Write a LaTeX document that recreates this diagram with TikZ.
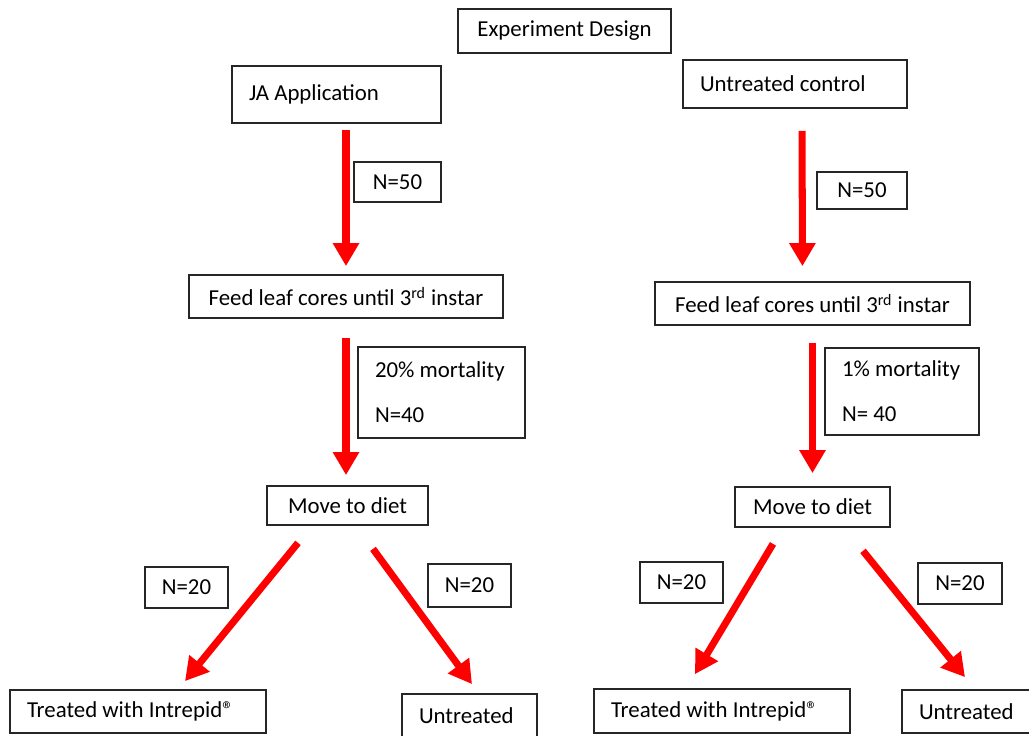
\documentclass[tikz,border=0pt]{standalone}
\usepackage{fontspec}
\setmainfont{Carlito}
\usetikzlibrary{arrows.meta}
\tikzset{
    box/.style={draw=black!85, line width=1pt, inner sep=0pt, font=\fontsize{13}{15.6}\selectfont},
    lbox/.style={box, align=flush left, inner xsep=0.34cm},
    flow/.style={red, line width=4pt, -{Triangle[length=0.46cm,width=0.5cm]}}
}
\begin{document}
\begin{tikzpicture}[x=0.02cm, y=-0.02cm]
        \useasboundingbox (0,0) rectangle (1029,736);

        % Title
        \node[box, minimum width=4.26cm, minimum height=0.88cm] (title) at (564.5,31) {Experiment Design};

        % JA branch
        \node[lbox, text width=3.5cm, minimum height=1.14cm] (ja) at (336.5,94.5) {JA Application};
        \node[box, minimum width=1.74cm, minimum height=0.8cm] (n50L) at (397.5,182) {N=50};
        \node[box, minimum width=6.28cm, minimum height=0.86cm] (feedL) at (346,296.5) {Feed leaf cores until 3\textsuperscript{rd} instar};
        \node[lbox, text width=2.66cm, minimum height=1.82cm] (mortL) at (441.5,392.5) {20\% mortality\\[10pt]N=40};
        \node[box, minimum width=3.22cm, minimum height=0.78cm] (dietL) at (347.5,505.5) {Move to diet};
        \node[box, minimum width=1.66cm, minimum height=0.82cm] (n20a) at (186.5,587.5) {N=20};
        \node[box, minimum width=1.66cm, minimum height=0.86cm] (n20b) at (469.5,585.5) {N=20};
        \node[lbox, text width=4.44cm, minimum height=0.86cm] (trtL) at (138,711.5) {Treated with Intrepid®};
        \node[lbox, text width=2.02cm, minimum height=0.88cm] (untL) at (469.5,716) {Untreated};

        % Control branch
        \node[lbox, text width=3.8cm, minimum height=0.96cm] (ctrl) at (795,84) {Untreated control};
        \node[box, minimum width=1.8cm, minimum height=0.74cm] (n50R) at (862,190.5) {N=50};
        \node[box, minimum width=6.3cm, minimum height=0.86cm] (feedR) at (812.5,303.5) {Feed leaf cores until 3\textsuperscript{rd} instar};
        \node[lbox, text width=2.4cm, minimum height=1.74cm] (mortR) at (902,391.5) {1\% mortality\\[10pt]N= 40};
        \node[box, minimum width=3.1cm, minimum height=0.8cm] (dietR) at (812.5,507) {Move to diet};
        \node[box, minimum width=1.66cm, minimum height=0.82cm] (n20c) at (681.5,582.5) {N=20};
        \node[box, minimum width=1.68cm, minimum height=0.82cm] (n20d) at (960,583.5) {N=20};
        \node[lbox, text width=4.44cm, minimum height=0.88cm] (trtR) at (722,711) {Treated with Intrepid®};
        \node[lbox, text width=1.9cm, minimum height=0.86cm] (untR) at (966.5,711.5) {Untreated};

        % Arrows, JA branch
        \draw[flow, shorten <=0.12cm, shorten >=0.16cm] (ja.south -| feedL.north) -- (feedL.north);
        \draw[flow, shorten <=0.38cm, shorten >=0.2cm] (feedL.south) -- (feedL.south |- dietL.north);
        \draw[flow] ([shift={(-49.5,17)}]dietL.south) -- ([shift={(47,-8)}]trtL.north);
        \draw[flow] ([shift={(25.5,23)}]dietL.south) -- ([shift={(2.5,-9)}]untL.north);

        % Arrows, control branch
        \draw[flow, shorten <=0.44cm, shorten >=0.3cm] ([xshift=0.14cm]ctrl.south) -- ([xshift=-0.2cm]feedR.north);
        \draw[flow, shorten <=0.34cm, shorten >=0.26cm] (feedR.south) -- (feedR.south |- dietR.north);
        \draw[flow] ([shift={(-39.5,16)}]dietR.south) -- ([shift={(-27,-14)}]trtR.north);
        \draw[flow] ([shift={(50.5,23)}]dietR.south) -- ([shift={(-1.5,-12)}]untR.north);
    \end{tikzpicture}
\end{document}
